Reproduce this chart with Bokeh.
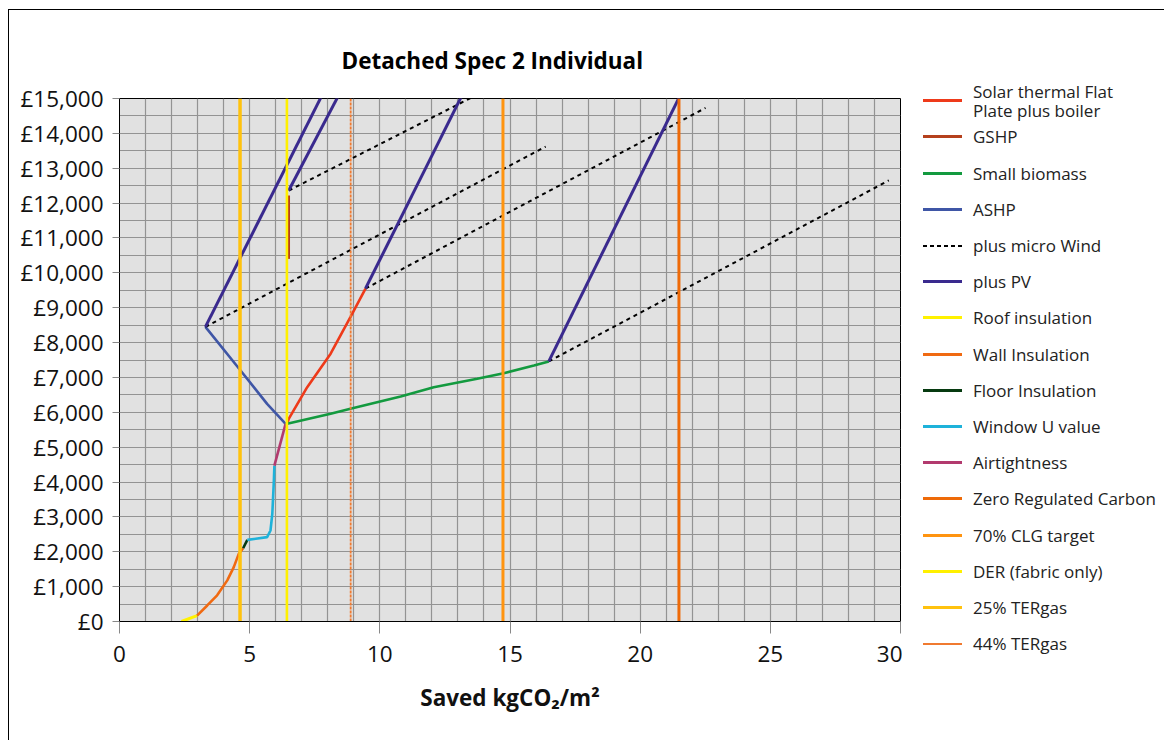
from bokeh.plotting import figure
from bokeh.layouts import row
from bokeh.models import FixedTicker, Range1d, Div
from bokeh.embed import file_html
from bokeh.resources import INLINE

# ---------------- data ----------------
X_TICKS = [0, 5, 10, 15, 20, 25, 30]
X_GRID = list(range(0, 31))
Y_TICKS = list(range(0, 15001, 1000))
Y_GRID = list(range(0, 15001, 500))
Y_TICK_LABELS = ["£0", "£1,000", "£2,000", "£3,000", "£4,000", "£5,000", "£6,000",
                 "£7,000", "£8,000", "£9,000", "£10,000", "£11,000", "£12,000",
                 "£13,000", "£14,000", "£15,000"]

roof_x = [2.38, 2.98]
roof_y = [0, 170]
wall_x = [2.98, 3.37, 3.75, 4.14, 4.39, 4.58, 4.75]
wall_y = [170, 460, 750, 1180, 1560, 1940, 2100]
floor_x = [4.75, 4.91]
floor_y = [2100, 2340]
window_x = [4.91, 5.67, 5.80, 5.87, 5.93, 5.95]
window_y = [2340, 2420, 2610, 3090, 4040, 4470]
air_x = [5.95, 6.38]
air_y = [4470, 5670]
ashp_x = [6.38, 5.67, 4.65, 3.30]
ashp_y = [5670, 6240, 7200, 8450]
biomass_x = [6.44, 8.11, 8.87, 10.80, 12.07, 13.74, 14.76, 15.92, 16.49]
biomass_y = [5670, 5960, 6100, 6450, 6720, 6960, 7120, 7340, 7460]
solar_x = [6.44, 6.50, 7.21, 8.11, 8.87, 9.45]
solar_y = [5670, 5810, 6720, 7680, 8730, 9550]
gshp_x = [6.50, 6.50]
gshp_y = [10400, 12220]

pv_xs = [[3.30, 7.79], [6.50, 8.43], [9.45, 13.17], [16.49, 21.55]]
pv_ys = [[8450, 15110], [12360, 15110], [9550, 15110], [7460, 15110]]
wind_xs = [[3.30, 16.37], [6.50, 13.74], [9.45, 22.51], [16.49, 29.55]]
wind_ys = [[8450, 13620], [12360, 15110], [9550, 14730], [7460, 12650]]

zero_carbon_x = 21.49
clg70_x = 14.73
der_x = 6.43
ter25_x = 4.63
ter44_x = 8.88

FONT = "Open Sans"
H = 730

COLORS = {
    "solar": "#EE3A1A", "gshp": "#B5401C", "bio": "#139A3F", "ashp": "#3F56A6",
    "wind": "#000000", "pv": "#3A2A8E", "roof": "#FFF200", "wall": "#F06A12",
    "floor": "#063A10", "win": "#1EB2DA", "air": "#B23A6E", "zero": "#EE6A08",
    "clg": "#FF9410", "der": "#FFF000", "t25": "#FFC20E", "t44": "#F07A30",
}

p = figure(width=893, height=H, output_backend="svg", toolbar_location=None,
           x_range=Range1d(0, 30), y_range=Range1d(0, 15000),
           min_border_left=110, min_border_right=2, min_border_top=88,
           min_border_bottom=119)

p.background_fill_color = "#E1E1E1"
p.outline_line_color = "#000000"
p.outline_line_width = 1

p.title.text = "Detached Spec 2 Individual"
p.title.text_font = FONT
p.title.text_font_size = "22.5px"
p.title.text_font_style = "bold"
p.title.text_color = "#000000"
p.title.align = "left"
p.title.offset = 222
p.title.standoff = 46

p.xaxis.ticker = FixedTicker(ticks=X_TICKS)
p.yaxis.ticker = FixedTicker(ticks=Y_TICKS)
p.yaxis.major_label_overrides = {t: l for t, l in zip(Y_TICKS, Y_TICK_LABELS)}
p.xgrid.ticker = FixedTicker(ticks=X_GRID)
p.ygrid.ticker = FixedTicker(ticks=Y_GRID)
for g in (p.xgrid, p.ygrid):
    g.grid_line_color = "#939393"
    g.grid_line_width = 1.2

for ax in (p.xaxis, p.yaxis):
    ax.major_label_text_font = FONT
    ax.major_label_text_font_size = "22.5px"
    ax.major_label_text_color = "#111111"
    ax.axis_line_color = "#000000"
    ax.major_tick_line_color = "#888888"
    ax.minor_tick_line_color = None
    ax.major_tick_in = 0
p.xaxis.major_tick_out = 12
p.yaxis.major_tick_out = 7
p.xaxis.major_label_standoff = 12
p.yaxis.major_label_standoff = 9
p.xaxis.axis_label = "Saved kgCO₂/m²"
p.xaxis.axis_label_text_font = FONT
p.xaxis.axis_label_text_font_size = "22.5px"
p.xaxis.axis_label_text_font_style = "bold"
p.xaxis.axis_label_text_color = "#111111"
p.xaxis.axis_label_standoff = 17

W = 2.6
p.line(solar_x, solar_y, line_color=COLORS["solar"], line_width=W)
p.line(gshp_x, gshp_y, line_color=COLORS["gshp"], line_width=W)
p.line(biomass_x, biomass_y, line_color=COLORS["bio"], line_width=W)
p.line(ashp_x, ashp_y, line_color=COLORS["ashp"], line_width=W)
p.multi_line(wind_xs, wind_ys, line_color=COLORS["wind"], line_width=2, line_dash="4 4")
p.multi_line(pv_xs, pv_ys, line_color=COLORS["pv"], line_width=3)
p.line(roof_x, roof_y, line_color=COLORS["roof"], line_width=3)
p.line(wall_x, wall_y, line_color=COLORS["wall"], line_width=W)
p.line(floor_x, floor_y, line_color=COLORS["floor"], line_width=W)
p.line(window_x, window_y, line_color=COLORS["win"], line_width=W)
p.line(air_x, air_y, line_color=COLORS["air"], line_width=W)
p.line([zero_carbon_x, zero_carbon_x], [0, 15000], line_color=COLORS["zero"], line_width=3)
p.line([clg70_x, clg70_x], [0, 15000], line_color=COLORS["clg"], line_width=3)
p.line([der_x, der_x], [0, 15000], line_color=COLORS["der"], line_width=2.6)
p.line([ter25_x, ter25_x], [0, 15000], line_color=COLORS["t25"], line_width=3.5)
p.line([ter44_x, ter44_x], [0, 15000], line_color=COLORS["t44"], line_width=1.8, line_dash="3 1")

# ---------------- legend (HTML panel beside the plot) ----------------
LEGEND_LABELS = [
    ("Solar thermal Flat<br>Plate plus boiler", "solar"),
    ("GSHP", "gshp"),
    ("Small biomass", "bio"),
    ("ASHP", "ashp"),
    ("plus micro Wind", "wind"),
    ("plus PV", "pv"),
    ("Roof insulation", "roof"),
    ("Wall Insulation", "wall"),
    ("Floor Insulation", "floor"),
    ("Window U value", "win"),
    ("Airtightness", "air"),
    ("Zero Regulated Carbon", "zero"),
    ("70% CLG target", "clg"),
    ("DER (fabric only)", "der"),
    ("25% TERgas", "t25"),
    ("44% TERgas", "t44"),
]
FIRST_Y = 90.7   # centre of first entry, from top of the legend panel
PITCH = 36.2
parts = []
for i, (label, key) in enumerate(LEGEND_LABELS):
    cy = FIRST_Y + PITCH * i
    if key == "wind":
        sw = (f"top:{cy - 1:.1f}px;height:2px;"
              "background:repeating-linear-gradient(90deg,#000 0 4px,transparent 4px 7px);")
    elif key == "t44":
        sw = f"top:{cy - 0.75:.1f}px;height:1.5px;background:{COLORS[key]};"
    else:
        sw = f"top:{cy - 1.5:.1f}px;height:3px;background:{COLORS[key]};"
    parts.append(f'<div style="position:absolute;left:21px;width:39px;{sw}"></div>')
    nlines = label.count("<br>") + 1
    top = cy - 9.5 * nlines
    parts.append(
        f'<div style="position:absolute;left:71px;top:{top:.1f}px;'
        f"font-family:'{FONT}';font-size:17px;line-height:19px;color:#222;"
        f'white-space:nowrap;">{label}</div>')
legend_html = ('<div style="position:relative;width:262px;height:%dpx;">' % H
               + "".join(parts) + "</div>")
legend_div = Div(text=legend_html, width=262, height=H, margin=0)

layout = row(p, legend_div, margin=(9, 0, 0, 8),
             styles={"border-left": "1px solid #000", "border-top": "1px solid #000"})

open("out.html", "w").write(file_html(layout, INLINE))
